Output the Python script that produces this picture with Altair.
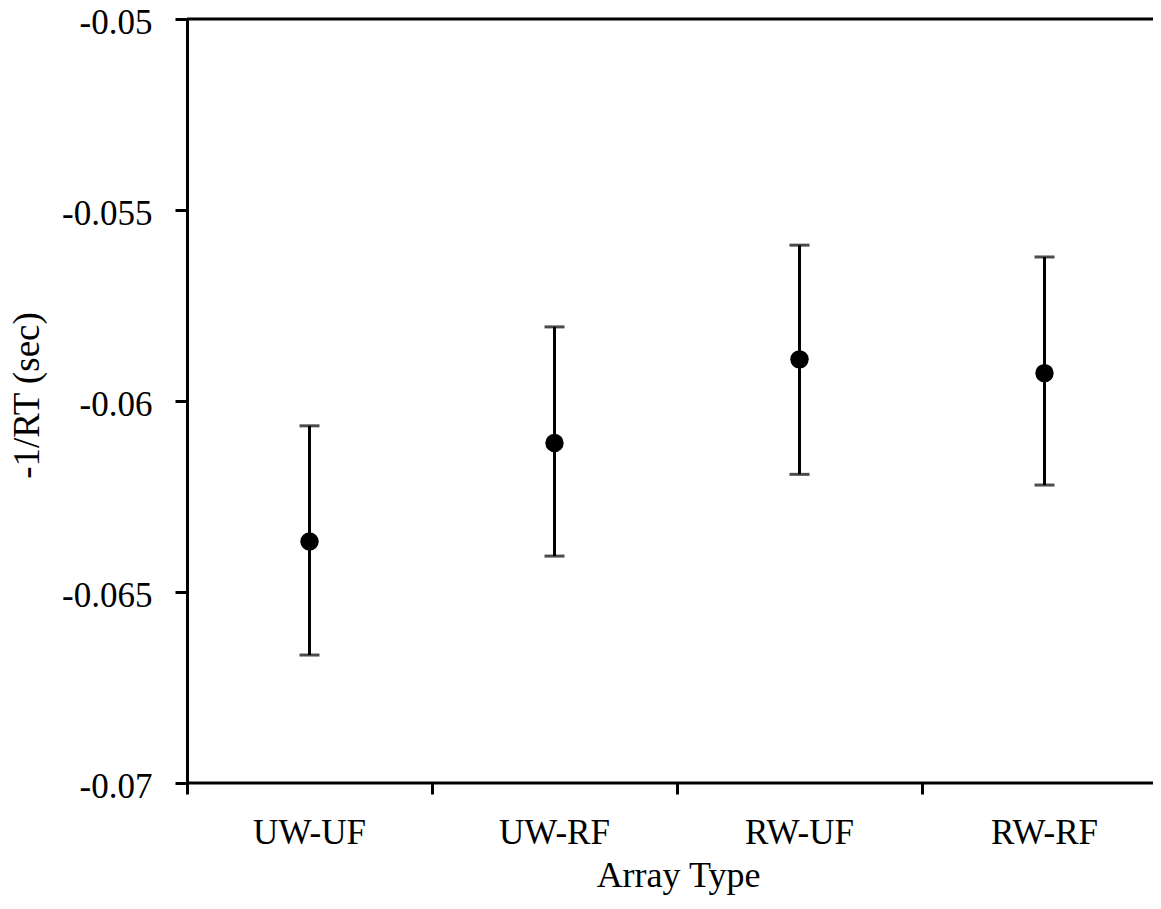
import altair as alt
import pandas as pd

categories = ["UW-UF", "UW-RF", "RW-UF", "RW-RF"]
means = [-0.06368, -0.06110, -0.05891, -0.05927]
lower = [-0.06665, -0.06406, -0.06192, -0.06220]
upper = [-0.06065, -0.05806, -0.05592, -0.05623]
y_ticks = [-0.07, -0.065, -0.06, -0.055, -0.05]
frame_lines = [-0.07, -0.05]

df = pd.DataFrame({"cat": categories, "mean": means, "lo": lower, "hi": upper})

FONT = "Liberation Serif"

x_enc = alt.X(
    "cat:N",
    sort=categories,
    scale=alt.Scale(paddingInner=0, paddingOuter=0, range=[0, 980]),
    axis=alt.Axis(
        title="Array Type",
        domain=False,
        bandPosition=0,
        tickExtra=False,
        labelAngle=0,
        tickSize=11,
        labelPadding=21,
        titleX=491,
        titleY=103,
        titleFontSize=36,
        titleAlign="center",
        titleBaseline="alphabetic",
    ),
)

y_scale = alt.Scale(domain=[-0.07, -0.05], nice=False, zero=False)

base = alt.Chart(df)

rule = base.mark_rule(color="black", strokeWidth=3).encode(
    x=x_enc,
    y=alt.Y(
        "lo:Q",
        scale=y_scale,
        axis=alt.Axis(
            title="-1/RT (sec)",
            values=y_ticks,
            format=".3~f",
            labelExpr="replace(datum.label, '\u2212', '-')",
            tickSize=12,
            labelPadding=23,
            labelOffset=3,
            titleAngle=270,
            titleFontSize=37,
            titleX=-149,
            titleY=376,
            titleAlign="center",
            titleBaseline="alphabetic",
            grid=False,
        ),
    ),
    y2="hi:Q",
)

cap_lo = base.mark_tick(color="black", size=20, thickness=3, orient="horizontal").encode(
    x=alt.X("cat:N", sort=categories), y="lo:Q"
)
cap_hi = base.mark_tick(color="black", size=20, thickness=3, orient="horizontal").encode(
    x=alt.X("cat:N", sort=categories), y="hi:Q"
)
points = base.mark_point(filled=True, color="black", size=340, opacity=1).encode(
    x=alt.X("cat:N", sort=categories), y="mean:Q"
)

frame = alt.Chart(pd.DataFrame({"v": frame_lines})).mark_rule(
    color="black", strokeWidth=3
).encode(y="v:Q")

chart = (
    alt.layer(rule, cap_lo, cap_hi, points, frame)
    .properties(
        width=966,
        height=764,
        autosize=alt.AutoSizeParams(type="none"),
        padding={"left": 179, "top": 11, "right": 0, "bottom": 114},
    )
    .configure_view(stroke=None)
    .configure_axis(
        labelFont=FONT,
        titleFont=FONT,
        labelFontSize=35,
        titleFontSize=35,
        labelColor="black",
        titleColor="black",
        titleFontWeight="normal",
        domainColor="black",
        tickColor="black",
        domainWidth=3,
        tickWidth=3,
        domainCap="square",
    )
)

chart.save("out.html", embed_options={"renderer": "svg", "actions": False})
